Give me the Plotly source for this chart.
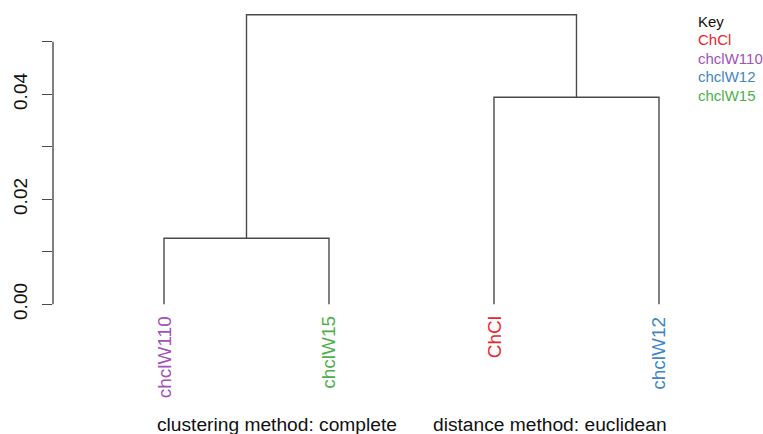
import plotly.graph_objects as go

# ---- data ----
leaf_labels = ["chclW110", "chclW15", "ChCl", "chclW12"]          # leaf order left->right
leaf_colors = ["#A352B8", "#4DAF4A", "#E8262C", "#3F86C4"]
# merges: (left, right, height); negative = leaf index (1-based), positive = earlier merge (1-based)
merge_left = [-1, -3, 1]
merge_right = [-2, -4, 2]
merge_height = [0.01257, 0.03943, 0.05516]
y_tick_vals = [0.00, 0.01, 0.02, 0.03, 0.04, 0.05]
y_tick_text = ["0.00", "", "0.02", "", "0.04", ""]
key_labels = ["ChCl", "chclW110", "chclW12", "chclW15"]
key_colors = ["#E8262C", "#A352B8", "#3F86C4", "#4DAF4A"]
sub_left = "clustering method: complete"
sub_right = "distance method: euclidean"

LINE = "#4a4a4a"
FONT = "Liberation Sans, Arial, sans-serif"

# ---- build dendrogram segments ----
leaf_x = [i + 1 for i in range(len(leaf_labels))]
node_x, node_h = [], []
xs, ys = [], []
def pos(idx):
    if idx < 0:
        return leaf_x[-idx - 1], 0.0
    return node_x[idx - 1], node_h[idx - 1]
for l, r, h in zip(merge_left, merge_right, merge_height):
    lx, lh = pos(l)
    rx, rh = pos(r)
    xs += [lx, lx, rx, rx, None]
    ys += [lh, h, h, rh, None]
    node_x.append((lx + rx) / 2)
    node_h.append(h)

fig = go.Figure()
fig.add_trace(go.Scatter(x=xs, y=ys, mode="lines",
                         line=dict(color=LINE, width=1.4),
                         hoverinfo="skip", showlegend=False))

# y axis line from 0 to 0.05
fig.add_shape(type="line", xref="paper", yref="y", x0=0, x1=0,
              y0=y_tick_vals[0], y1=y_tick_vals[-1],
              line=dict(color=LINE, width=1.4))

# leaf labels
for x, lab, col in zip(leaf_x, leaf_labels, leaf_colors):
    fig.add_annotation(x=x, y=0, xref="x", yref="y", text=lab, showarrow=False,
                       textangle=-90, xanchor="center", yanchor="top", yshift=-10,
                       font=dict(family=FONT, size=19, color=col))

# bottom sub-titles
fig.add_annotation(x=(277 - 53) / 650, y=0, xref="paper", yref="paper", text=sub_left,
                   showarrow=False, xanchor="center", yanchor="middle", yshift=-104,
                   font=dict(family=FONT, size=19.2, color="#111111"))
fig.add_annotation(x=(549.5 - 53) / 650, y=0, xref="paper", yref="paper", text=sub_right,
                   showarrow=False, xanchor="center", yanchor="middle", yshift=-104,
                   font=dict(family=FONT, size=19.2, color="#111111"))

# key
key_x = (696 - 53) / 650
fig.add_annotation(x=key_x, y=1, xref="paper", yref="paper", text="Key",
                   showarrow=False, xanchor="left", yanchor="middle", yshift=-11,
                   font=dict(family=FONT, size=15, color="#111111"))
for i, (lab, col) in enumerate(zip(key_labels, key_colors)):
    fig.add_annotation(x=key_x, y=1, xref="paper", yref="paper", text=lab,
                       showarrow=False, xanchor="left", yanchor="middle",
                       yshift=-11 - 18.5 * (i + 1),
                       font=dict(family=FONT, size=15, color=col))

fig.update_layout(
    width=763, height=434,
    margin=dict(l=53, r=60, t=10, b=114),
    paper_bgcolor="white", plot_bgcolor="white",
    font=dict(family=FONT, size=19, color="#111111"),
    xaxis=dict(range=[0.3273, 4.2667], visible=False, fixedrange=True),
    yaxis=dict(range=[-0.00299, 0.05606], showgrid=False, zeroline=False,
               showline=False, ticks="outside", ticklen=10, tickwidth=1.4,
               tickcolor=LINE, tickvals=y_tick_vals, ticktext=y_tick_text,
               tickangle=-90, tickfont=dict(family=FONT, size=19, color="#111111"),
               ticklabelstandoff=7, fixedrange=True),
    showlegend=False,
)

fig.write_html("out.html", config={"displayModeBar": False},
               post_script="document.body.style.margin='0';document.body.style.overflow='hidden';")
